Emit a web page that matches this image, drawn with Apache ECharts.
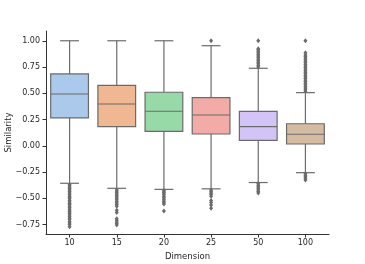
<!DOCTYPE html>
<html>
<head>
<meta charset="utf-8">
<script src="https://cdn.jsdelivr.net/npm/echarts@6/dist/echarts.min.js"></script>
<style>html,body{margin:0;padding:0;background:#fff}#c{width:365px;height:264px}</style>
</head>
<body>
<div id="c"></div>
<script>
const categories = ['10', '15', '20', '25', '50', '100'];
const whiskerLow = [-0.357, -0.405, -0.415, -0.41, -0.35, -0.256];
const q1 = [0.265, 0.182, 0.138, 0.112, 0.052, 0.017];
const median = [0.493, 0.398, 0.329, 0.293, 0.182, 0.11];
const q3 = [0.684, 0.576, 0.51, 0.458, 0.328, 0.21];
const whiskerHigh = [1.0, 1.0, 1.0, 0.953, 0.738, 0.506];
const out10 = [-0.37,-0.38,-0.395,-0.41,-0.42,-0.435,-0.45,-0.465,-0.48,-0.49,-0.505,-0.52,-0.535,-0.55,-0.56,-0.575,-0.59,-0.605,-0.62,-0.63,-0.645,-0.66,-0.675,-0.69,-0.70,-0.72,-0.735,-0.75,-0.77];
const out15 = [-0.42,-0.43,-0.445,-0.46,-0.47,-0.485,-0.50,-0.515,-0.53,-0.545,-0.56,-0.575,-0.615,-0.635,-0.695,-0.71,-0.725,-0.74,-0.755];
const out20 = [-0.425,-0.44,-0.45,-0.465,-0.48,-0.495,-0.51,-0.525,-0.54,-0.555,-0.62];
const out25 = [-0.42,-0.435,-0.45,-0.465,-0.48,-0.52,-0.54,-0.565,-0.595,1.0];
const out50 = [-0.36,-0.375,-0.39,-0.405,-0.42,-0.435,-0.45,0.75,0.765,0.78,0.795,0.81,0.825,0.84,0.855,0.87,0.885,0.9,0.915,0.925,1.0];
const out100 = [-0.265,-0.28,-0.295,-0.31,-0.325,0.52,0.535,0.55,0.565,0.58,0.595,0.61,0.625,0.64,0.655,0.67,0.685,0.70,0.715,0.73,0.745,0.76,0.775,0.79,0.805,0.82,0.835,0.85,0.865,0.885,1.0];
const yTicks = [-0.75, -0.5, -0.25, 0, 0.25, 0.5, 0.75, 1.0];

const boxColors = ['#abc9ea', '#efb792', '#98daa7', '#f3aba8', '#d3c4f7', '#d6bba3'];
const gray = '#6b6b6b';
const outliers = [out10, out15, out20, out25, out50, out100];

const boxData = categories.map((c, i) => [i, whiskerLow[i], q1[i], median[i], q3[i], whiskerHigh[i]]);
const outData = [];
outliers.forEach((arr, i) => arr.forEach(v => outData.push([i, v])));

const chart = echarts.init(document.getElementById('c'), null, {renderer: 'canvas'});
chart.setOption({
  animation: false,
  grid: {left: 46, right: 36, top: 31, bottom: 30, containLabel: false, outerBoundsMode: 'none'},
  xAxis: {
    type: 'category', data: categories, boundaryGap: true,
    name: 'Dimension', nameLocation: 'middle', nameGap: 18, nameMoveOverlap: false,
    nameTextStyle: {fontFamily: 'DejaVu Sans', fontSize: 8.5, color: '#262626'},
    axisLine: {show: true, onZero: false, lineStyle: {color: '#333', width: 1}},
    axisTick: {show: true, alignWithLabel: true, length: 3.5, lineStyle: {color: '#333'}},
    axisLabel: {fontFamily: 'DejaVu Sans', fontSize: 8, color: '#262626', margin: 5},
    splitLine: {show: false}
  },
  yAxis: {
    type: 'value', min: -0.84, max: 1.093,
    name: 'Similarity', nameLocation: 'middle', nameGap: 33, nameRotate: 90, nameMoveOverlap: false,
    nameTextStyle: {fontFamily: 'DejaVu Sans', fontSize: 8.5, color: '#262626'},
    axisLine: {show: true, onZero: false, lineStyle: {color: '#333', width: 1}},
    axisTick: {show: true, length: 3.5, lineStyle: {color: '#333'}, customValues: yTicks},
    axisLabel: {fontFamily: 'DejaVu Sans', fontSize: 8, color: '#262626', margin: 6,
      customValues: yTicks,
      formatter: v => v.toFixed(2).replace('-', '\u2212')},
    splitLine: {show: false}
  },
  series: [
    {
      type: 'custom',
      data: boxData,
      encode: {x: 0, y: [1, 2, 3, 4, 5]},
      renderItem: function (params, api) {
        const i = api.value(0);
        const pMin = api.coord([i, api.value(1)]);
        const pQ1 = api.coord([i, api.value(2)]);
        const pMed = api.coord([i, api.value(3)]);
        const pQ3 = api.coord([i, api.value(4)]);
        const pMax = api.coord([i, api.value(5)]);
        const bw = api.size([1, 0])[0] * 0.8;
        const x = pMin[0];
        const ls = {stroke: gray, lineWidth: 1.2};
        return {
          type: 'group',
          children: [
            {type: 'line', shape: {x1: x, y1: pQ3[1], x2: x, y2: pMax[1]}, style: ls},
            {type: 'line', shape: {x1: x, y1: pQ1[1], x2: x, y2: pMin[1]}, style: ls},
            {type: 'line', shape: {x1: x - bw / 4, y1: pMax[1], x2: x + bw / 4, y2: pMax[1]}, style: ls},
            {type: 'line', shape: {x1: x - bw / 4, y1: pMin[1], x2: x + bw / 4, y2: pMin[1]}, style: ls},
            {type: 'rect', shape: {x: x - bw / 2, y: pQ3[1], width: bw, height: pQ1[1] - pQ3[1]},
              style: {fill: boxColors[i], stroke: gray, lineWidth: 1.2}},
            {type: 'line', shape: {x1: x - bw / 2, y1: pMed[1], x2: x + bw / 2, y2: pMed[1]}, style: ls}
          ]
        };
      }
    },
    {
      type: 'scatter',
      data: outData,
      symbol: 'diamond',
      symbolSize: [4, 5],
      itemStyle: {color: gray, opacity: 1},
      z: 3
    }
  ]
});
</script>
</body>
</html>
